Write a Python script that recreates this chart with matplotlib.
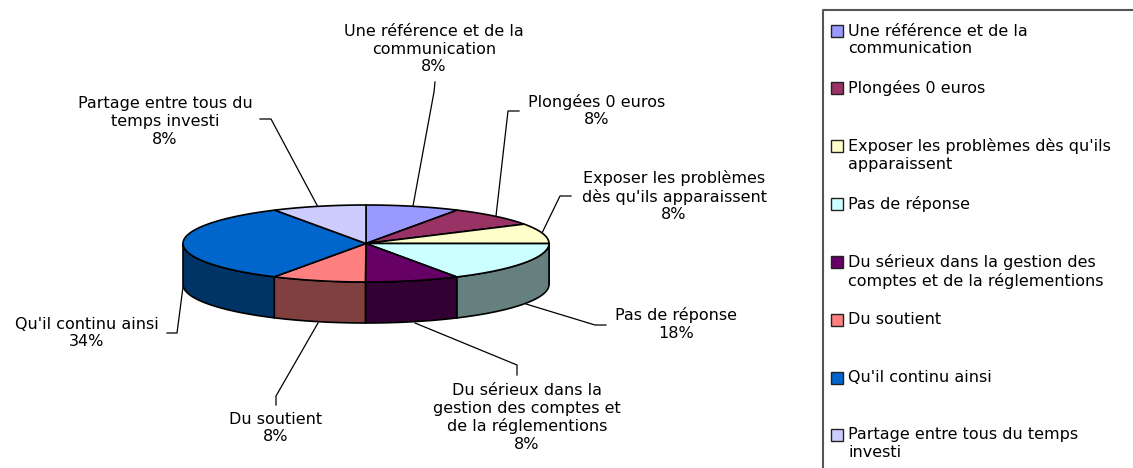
import numpy as np
import matplotlib
matplotlib.use('Agg')
import matplotlib.pyplot as plt
from matplotlib.patches import Polygon, Rectangle

plt.rcParams['font.family'] = ['DejaVu Sans']

values = [8.3, 8.3, 8.4, 16.7, 8.3, 8.3, 33.3, 8.3]
percents = ['8%', '8%', '8%', '18%', '8%', '8%', '34%', '8%']
slice_labels = ['Une référence et de la\ncommunication',
                'Plongées 0 euros',
                'Exposer les problèmes\ndès qu\'ils apparaissent',
                'Pas de réponse',
                'Du sérieux dans la\ngestion des comptes et\nde la réglementions',
                'Du soutient',
                'Qu\'il continu ainsi',
                'Partage entre tous du\ntemps investi']
legend_labels = ['Une référence et de la\ncommunication',
                 'Plongées 0 euros',
                 'Exposer les problèmes dès qu\'ils\napparaissent',
                 'Pas de réponse',
                 'Du sérieux dans la gestion des\ncomptes et de la réglementions',
                 'Du soutient',
                 'Qu\'il continu ainsi',
                 'Partage entre tous du temps\ninvesti']
top_colors = ['#9999FF', '#993366', '#FFFFCC', '#CCFFFF', '#660066', '#FF8080', '#0066CC', '#CCCCFF']
side_colors = ['#4D4D80', '#4D1A33', '#808066', '#668080', '#330033', '#804040', '#003366', '#666680']

# layout, in pixels of the 1133x468 picture
cx, cy, rx, ry, depth = 366, 243.5, 183, 38.5, 41
label_pos = [(434, 49), (597, 110.5), (674, 196), (676, 324), (527, 417.5), (276, 428), (87, 333), (165, 121.5)]
leaders = [[(413, 206), (434, 92), (435, 82)],
           [(496, 216), (508, 111), (519, 111)],
           [(542, 233), (560, 196), (571, 196)],
           [(526, 304), (595, 325), (606, 325)],
           [(415, 323), (517, 365), (517, 375)],
           [(318, 323), (276, 396), (276, 405)],
           [(183, 287), (177, 333), (167, 333)],
           [(318, 207), (271, 119), (260, 119)]]
legend_y = [31, 88, 146, 204, 262, 320, 378, 435]
font_size = 11.5


def rim(a0, a1, n=80):
    a = np.radians(np.linspace(a0, a1, n))
    return cx + rx * np.sin(a), cy - ry * np.cos(a)


fig = plt.figure(figsize=(11.33, 4.68), dpi=100)
ax = fig.add_axes([0, 0, 1, 1])
ax.set_xlim(0, 1133)
ax.set_ylim(468, 0)
ax.axis('off')

edges = np.concatenate([[0], np.cumsum(values)]) / sum(values) * 360

# side wall, only the front half of the disc shows
for i in range(len(values)):
    a0, a1 = max(edges[i], 90), min(edges[i + 1], 270)
    if a1 <= a0:
        continue
    x, y = rim(a0, a1)
    pts = np.column_stack([np.r_[x, x[::-1]], np.r_[y, y[::-1] + depth]])
    ax.add_patch(Polygon(pts, fc=side_colors[i], ec='black', lw=1.2, zorder=2))

# top of the disc
for i in range(len(values)):
    x, y = rim(edges[i], edges[i + 1])
    pts = np.column_stack([np.r_[cx, x], np.r_[cy, y]])
    ax.add_patch(Polygon(pts, fc=top_colors[i], ec='black', lw=1.2, zorder=3))

for pts in leaders:
    xs, ys = zip(*pts)
    ax.plot(xs, ys, color='black', lw=0.9, zorder=1)

for i, (lx, ly) in enumerate(label_pos):
    ax.text(lx, ly, slice_labels[i] + '\n' + percents[i], ha='center', va='center',
            fontsize=font_size, color='black', linespacing=1.22, zorder=4)

# legend frame runs off the right and bottom of the picture
ax.plot([1133, 823, 823], [10, 10, 468], color='#555555', lw=1.5, zorder=1)
for i, ly in enumerate(legend_y):
    ax.add_patch(Rectangle((830.5, ly - 6), 12, 12, fc=top_colors[i], ec='#222222', lw=1.0, zorder=3))
    ax.text(848, ly - 7.5, legend_labels[i], ha='left', va='top', fontsize=font_size,
            color='black', linespacing=1.2, zorder=4)

fig.savefig('out.png', dpi=100, facecolor='white')
